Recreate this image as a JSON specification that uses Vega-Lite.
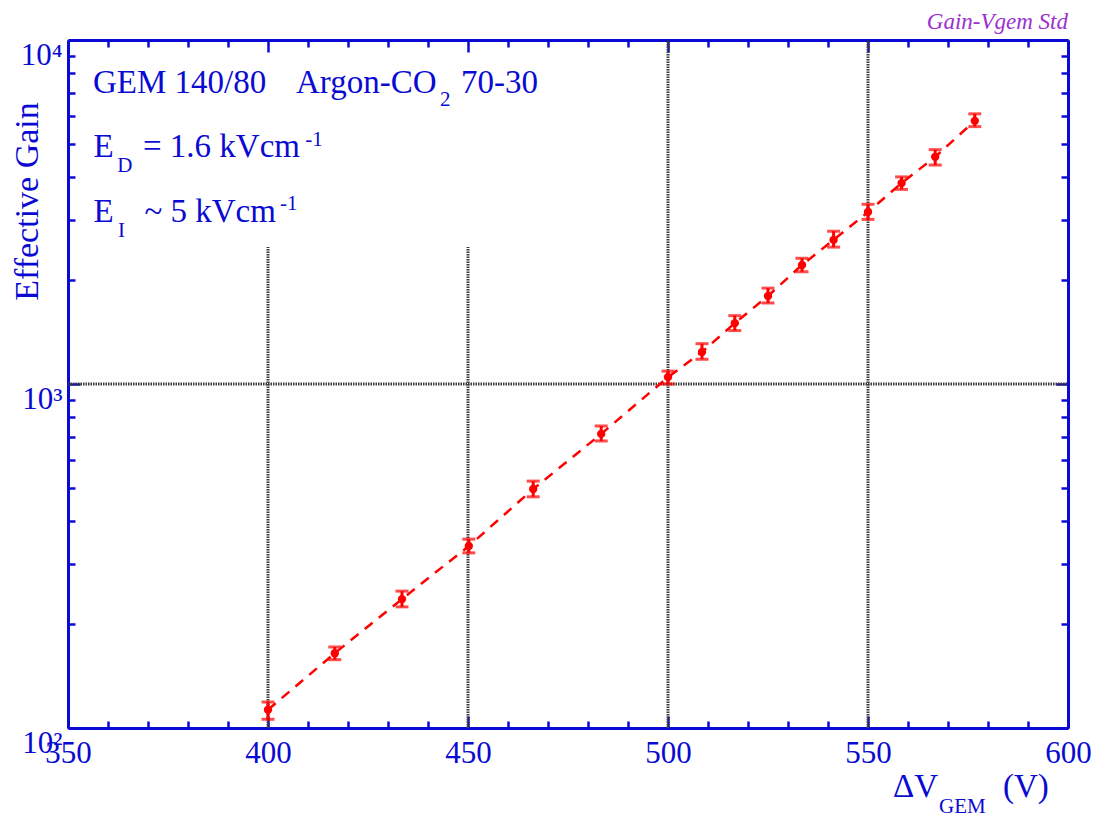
{
  "$schema": "https://vega.github.io/schema/vega-lite/v6.json",
  "width": 1000,
  "height": 688,
  "autosize": {"type": "none"},
  "padding": {"left": 68, "top": 40, "right": 40, "bottom": 90},
  "background": "white",
  "title": {"text": "Gain-Vgem Std", "anchor": "end", "frame": "group", "font": "Liberation Serif", "fontStyle": "italic", "fontWeight": "normal", "fontSize": 23, "color": "#9b30d0", "baseline": "alphabetic", "offset": -13},
  "config": {
    "view": {"stroke": null},
    "axis": {"grid": false, "labelFont": "Liberation Serif", "labelColor": "#0a0ad2", "domainColor": "#0a0ad2", "tickColor": "#0a0ad2", "tickWidth": 2.5, "domainWidth": 3, "title": null, "titleFont": "Liberation Serif", "titleColor": "#0a0ad2", "titleFontWeight": "normal"}
  },
  "datasets": {
    "meas": [
      {"v": 400, "gain": 113, "lo": 106, "hi": 119},
      {"v": 416.7, "gain": 165, "lo": 158, "hi": 172},
      {"v": 433.5, "gain": 237, "lo": 225, "hi": 250},
      {"v": 450.2, "gain": 338, "lo": 323, "hi": 354},
      {"v": 466.3, "gain": 495, "lo": 470, "hi": 522},
      {"v": 483.3, "gain": 716, "lo": 683, "hi": 755},
      {"v": 500, "gain": 1047, "lo": 1000, "hi": 1090},
      {"v": 508.5, "gain": 1239, "lo": 1180, "hi": 1310},
      {"v": 516.7, "gain": 1503, "lo": 1430, "hi": 1580},
      {"v": 525, "gain": 1803, "lo": 1720, "hi": 1900},
      {"v": 533.5, "gain": 2218, "lo": 2120, "hi": 2320},
      {"v": 541.4, "gain": 2624, "lo": 2500, "hi": 2780},
      {"v": 550, "gain": 3162, "lo": 3010, "hi": 3330},
      {"v": 558.4, "gain": 3837, "lo": 3680, "hi": 4000},
      {"v": 566.8, "gain": 4575, "lo": 4330, "hi": 4800},
      {"v": 576.7, "gain": 5821, "lo": 5600, "hi": 6100}
    ],
    "vgrid": [
      {"gx": 400, "g1": 100, "g2": 2500},
      {"gx": 450, "g1": 100, "g2": 2500},
      {"gx": 500, "g1": 100, "g2": 10000},
      {"gx": 550, "g1": 100, "g2": 10000}
    ],
    "hgrid": [{"hy": 1000, "h1": 350, "h2": 600}],
    "bigtext": [
      {"tx": 356.25, "ty": 7015, "t": "GEM 140/80"},
      {"tx": 407, "ty": 7015, "t": "Argon-CO"},
      {"tx": 448.25, "ty": 7015, "t": "70-30"},
      {"tx": 356.4, "ty": 4571, "t": "E"},
      {"tx": 368.75, "ty": 4571, "t": "= 1.6 kVcm"},
      {"tx": 356.4, "ty": 2958, "t": "E"},
      {"tx": 369.1, "ty": 2958, "t": "~ 5 kVcm"},
      {"tx": 556.25, "ty": 63, "t": "ΔV"},
      {"tx": 583.75, "ty": 63, "t": "(V)"}
    ],
    "smalltext": [
      {"tx": 443, "ty": 6428, "t": "2"},
      {"tx": 362.3, "ty": 4130, "t": "D"},
      {"tx": 409.3, "ty": 4920, "t": "-1"},
      {"tx": 362.5, "ty": 2675, "t": "I"},
      {"tx": 403, "ty": 3206, "t": "-1"},
      {"tx": 567.75, "ty": 56.6, "t": "GEM"}
    ]
  },
  "resolve": {"axis": {"x": "independent", "y": "independent"}},
  "layer": [
    {
      "data": {"name": "vgrid"},
      "mark": {"type": "rule", "color": "#3a3a3a", "strokeWidth": 3, "strokeDash": [1.5, 1]},
      "encoding": {
        "x": {"field": "gx", "type": "quantitative", "scale": {"domain": [350, 600], "nice": false, "zero": false},
          "axis": {"orient": "bottom", "values": [350, 400, 450, 500, 550, 600], "tickSize": -12, "labelPadding": 22, "labelFontSize": 31, "labelBaseline": "top", "labelFlush": false, "labelOverlap": false}},
        "y": {"field": "g1", "type": "quantitative", "scale": {"type": "log", "domain": [100, 10000], "nice": false},
          "axis": {"orient": "left", "values": [100, 1000, 10000], "tickSize": -12, "labelPadding": 18, "labelFontSize": 31, "labelBaseline": "top", "labelAlign": "right", "labelFlush": false, "labelOverlap": false,
            "labelExpr": "datum.value == 100 ? '10²' : datum.value == 1000 ? '10³' : '10⁴'",
            "title": "Effective Gain", "titleFontSize": 34, "titleAngle": -90, "titleX": -31, "titleY": 161, "titleAlign": "center", "titleBaseline": "alphabetic"}},
        "y2": {"field": "g2"}
      }
    },
    {
      "data": {"name": "hgrid"},
      "mark": {"type": "rule", "color": "#3a3a3a", "strokeWidth": 3, "strokeDash": [1.5, 1]},
      "encoding": {
        "y": {"field": "hy", "type": "quantitative", "scale": {"type": "log", "domain": [100, 10000], "nice": false},
          "axis": {"orient": "left", "values": [200, 300, 400, 500, 600, 700, 800, 900, 2000, 3000, 4000, 5000, 6000, 7000, 8000, 9000], "tickSize": -7, "labels": false, "domain": false}},
        "x": {"field": "h1", "type": "quantitative", "scale": {"domain": [350, 600], "nice": false, "zero": false},
          "axis": {"orient": "bottom", "values": [360, 370, 380, 390, 410, 420, 430, 440, 460, 470, 480, 490, 510, 520, 530, 540, 560, 570, 580, 590], "tickSize": -7, "labels": false, "domain": false}},
        "x2": {"field": "h2"}
      }
    },
    {
      "data": {"name": "meas"},
      "mark": {"type": "rule", "color": "#ff0000", "strokeWidth": 3},
      "encoding": {
        "x": {"field": "v", "type": "quantitative", "scale": {"domain": [350, 600], "nice": false, "zero": false},
          "axis": {"orient": "top", "values": [350, 400, 450, 500, 550, 600], "tickSize": -12, "labels": false}},
        "y": {"field": "lo", "type": "quantitative", "scale": {"type": "log", "domain": [100, 10000], "nice": false},
          "axis": {"orient": "right", "values": [100, 1000, 10000], "tickSize": -12, "labels": false}},
        "y2": {"field": "hi"}
      }
    },
    {
      "data": {"name": "meas"},
      "mark": {"type": "tick", "orient": "horizontal", "color": "#ff0000", "size": 13, "thickness": 3},
      "encoding": {
        "x": {"field": "v", "type": "quantitative", "scale": {"domain": [350, 600], "nice": false, "zero": false},
          "axis": {"orient": "top", "values": [360, 370, 380, 390, 410, 420, 430, 440, 460, 470, 480, 490, 510, 520, 530, 540, 560, 570, 580, 590], "tickSize": -7, "labels": false, "domain": false}},
        "y": {"field": "lo", "type": "quantitative", "scale": {"type": "log", "domain": [100, 10000], "nice": false},
          "axis": {"orient": "right", "values": [200, 300, 400, 500, 600, 700, 800, 900, 2000, 3000, 4000, 5000, 6000, 7000, 8000, 9000], "tickSize": -7, "labels": false, "domain": false}}
      }
    },
    {
      "data": {"name": "meas"},
      "mark": {"type": "tick", "orient": "horizontal", "color": "#ff0000", "size": 13, "thickness": 3},
      "encoding": {
        "x": {"field": "v", "type": "quantitative", "axis": null},
        "y": {"field": "hi", "type": "quantitative", "axis": null}
      }
    },
    {
      "data": {"name": "meas"},
      "mark": {"type": "line", "color": "#ff0000", "strokeWidth": 2.5, "strokeDash": [10, 8]},
      "encoding": {
        "x": {"field": "v", "type": "quantitative", "axis": null},
        "y": {"field": "gain", "type": "quantitative", "axis": null}
      }
    },
    {
      "data": {"name": "meas"},
      "mark": {"type": "point", "shape": "circle", "filled": true, "color": "#ff0000", "size": 70, "opacity": 1},
      "encoding": {
        "x": {"field": "v", "type": "quantitative", "axis": null},
        "y": {"field": "gain", "type": "quantitative", "axis": null}
      }
    },
    {
      "data": {"name": "bigtext"},
      "mark": {"type": "text", "font": "Liberation Serif", "fontSize": 33, "color": "#0a0ad2", "align": "left", "baseline": "alphabetic"},
      "encoding": {
        "x": {"field": "tx", "type": "quantitative", "axis": null},
        "y": {"field": "ty", "type": "quantitative", "axis": null},
        "text": {"field": "t"}
      }
    },
    {
      "data": {"name": "smalltext"},
      "mark": {"type": "text", "font": "Liberation Serif", "fontSize": 21, "color": "#0a0ad2", "align": "left", "baseline": "alphabetic"},
      "encoding": {
        "x": {"field": "tx", "type": "quantitative", "axis": null},
        "y": {"field": "ty", "type": "quantitative", "axis": null},
        "text": {"field": "t"}
      }
    }
  ]
}
